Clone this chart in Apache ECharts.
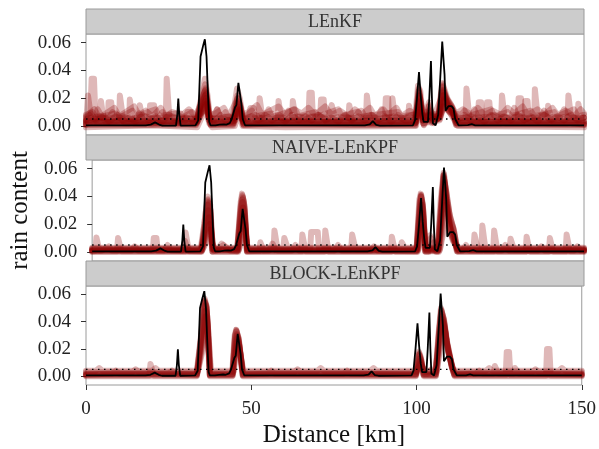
<!DOCTYPE html>
<html>
<head>
<meta charset="utf-8">
<script src="https://cdn.jsdelivr.net/npm/echarts@6/dist/echarts.min.js"></script>
<style>html,body{margin:0;padding:0;background:#fff}#c{width:599px;height:449px}</style>
</head>
<body>
<div id="c"></div>
<script>
// ---------------- data ----------------
const panelTitles = ['LEnKF', 'NAIVE-LEnKPF', 'BLOCK-LEnKPF'];
const xTicks = [0, 50, 100, 150];
const yTicks = [0, 0.02, 0.04, 0.06];
const threshold = 0.005;

// truth (black line), [km, rain content]
const truth = [[0,0.0005],[18,0.0005],[19.5,0.001],[20.8,0.0026],[22,0.001],[23,0.0003],[27.1,0.0003],[27.5,0.008],[27.8,0.0197],[28.1,0.008],[28.5,0.0003],[33,0.0005],[33.8,0.004],[34.5,0.05],[35.3,0.058],[35.8,0.0624],[36.3,0.05],[36.7,0.025],[37.1,0.003],[37.5,0.0005],[39,0.0005],[40.3,0.001],[41.5,0.0012],[42.3,0.001],[43.3,0.002],[43.9,0.005],[44.9,0.0135],[45.3,0.015],[45.9,0.031],[46.4,0.030],[46.8,0.016],[47.2,0.005],[47.9,0.0005],[84,0.0005],[85.5,0.0012],[86.4,0.0035],[87.4,0.0008],[88.5,0.0003],[98.5,0.0005],[99.1,0.004],[99.7,0.02],[100.3,0.0388],[100.8,0.022],[101.3,0.009],[101.7,0.003],[102.3,0.002],[103,0.003],[103.4,0.02],[103.9,0.0467],[104.2,0.02],[104.5,0.002],[105.3,0.0005],[105.8,0.001],[106.1,0.0082],[106.6,0.03],[107.3,0.0607],[108,0.037],[108.3,0.011],[108.7,0.0115],[109.2,0.0143],[110.1,0.0143],[110.7,0.0125],[111.2,0.005],[112.2,0.0005],[115,0.0006],[116.2,0.0013],[117.2,0.0005],[150,0.0005]];

// ensemble members, LEnKF
const lenkfMembers = [
 [[0,0.002],[1.2,0.002],[1.7,0.034],[2.4,0.034],[2.9,0.003],[8,0.003],[10,0.004],[10.2,0.022],[10.8,0.022],[11.3,0.003],[20,0.002],[24,0.003],[24.3,0.034],[24.8,0.034],[25.2,0.003],[33,0.002],[34.5,0.018],[35.8,0.034],[36.6,0.022],[37.5,0.002],[44,0.003],[45.5,0.027],[46.3,0.02],[47.5,0.002],[67,0.003],[67.3,0.024],[68,0.024],[68.4,0.003],[84.3,0.003],[84.6,0.022],[85.2,0.022],[85.6,0.002],[99,0.002],[100,0.029],[100.7,0.025],[101.5,0.004],[103.3,0.017],[104,0.01],[106,0.005],[107.3,0.031],[108.5,0.02],[110,0.015],[111.5,0.002],[114.3,0.003],[114.6,0.027],[115.2,0.027],[115.6,0.003],[135,0.003],[135.2,0.0265],[135.8,0.0265],[136.2,0.003],[150,0.002]],
 [[0,0.001],[0.6,0.022],[1.2,0.022],[1.7,0.003],[4.2,0.003],[4.5,0.018],[5,0.018],[5.4,0.003],[13,0.002],[13.2,0.019],[13.8,0.019],[14.2,0.002],[33.2,0.002],[34.8,0.02],[35.9,0.03],[36.8,0.012],[37.6,0.001],[44.3,0.002],[45.6,0.022],[46.4,0.016],[47.4,0.001],[57.7,0.002],[58,0.018],[58.6,0.018],[59,0.002],[79,0.002],[79.3,0.015],[79.9,0.015],[80.3,0.002],[90,0.002],[90.3,0.02],[91,0.02],[91.4,0.002],[99.2,0.002],[100.2,0.027],[101,0.015],[101.6,0.002],[106.2,0.006],[107.4,0.029],[108.8,0.016],[110.3,0.012],[111.6,0.002],[125,0.002],[125.3,0.022],[125.9,0.022],[126.3,0.002],[145,0.002],[145.3,0.022],[145.9,0.022],[146.3,0.002],[150,0.001]],
 [[0,0.003],[6.5,0.003],[6.8,0.017],[7.6,0.017],[8,0.004],[16,0.003],[16.2,0.015],[16.8,0.015],[17.2,0.003],[30,0.004],[30.5,0.01],[31.5,0.01],[32,0.003],[33.5,0.004],[35,0.02],[36,0.027],[37,0.008],[37.8,0.003],[44.5,0.003],[45.7,0.018],[46.5,0.012],[47.4,0.003],[52,0.003],[52.3,0.02],[52.9,0.02],[53.3,0.003],[62,0.003],[62.3,0.018],[62.8,0.018],[63.2,0.003],[92,0.003],[92.3,0.02],[92.8,0.02],[93.2,0.003],[99.3,0.003],[100.4,0.024],[101.3,0.006],[102.8,0.004],[103.5,0.012],[104.5,0.005],[106.4,0.008],[107.6,0.026],[109,0.018],[110.5,0.01],[111.6,0.003],[118,0.003],[118.3,0.017],[119,0.017],[119.4,0.003],[130,0.003],[130.3,0.02],[131,0.02],[131.4,0.003],[148,0.003],[148.3,0.016],[148.9,0.016],[149.3,0.003],[150,0.003]],
 [[0,0.004],[3,0.005],[3.5,0.012],[4.5,0.008],[5.5,0.004],[19,0.004],[19.3,0.015],[20.5,0.015],[21,0.004],[28,0.004],[28.5,0.009],[29.5,0.004],[33.5,0.003],[35.2,0.018],[36.2,0.023],[37,0.006],[38.5,0.004],[39.5,0.012],[40.5,0.005],[44.6,0.004],[45.8,0.014],[46.6,0.01],[47.5,0.004],[49,0.005],[49.5,0.013],[50.5,0.013],[51,0.004],[70.5,0.004],[70.8,0.019],[71.6,0.019],[72,0.004],[97,0.004],[97.3,0.0145],[97.9,0.0145],[98.3,0.004],[99.4,0.004],[100.5,0.02],[101.2,0.006],[103,0.005],[103.6,0.009],[104.3,0.005],[106.5,0.008],[107.7,0.022],[109.3,0.014],[111,0.006],[112,0.004],[120.5,0.004],[120.8,0.017],[121.5,0.017],[121.9,0.004],[132,0.004],[132.3,0.018],[133,0.018],[133.4,0.004],[139,0.004],[139.2,0.0145],[139.8,0.0145],[140.2,0.004],[150,0.004]],
 [[0,0.006],[1,0.008],[2,0.005],[7,0.006],[8,0.01],[9,0.006],[15,0.005],[16,0.009],[17,0.005],[22,0.006],[23,0.01],[24,0.006],[33.8,0.006],[35.3,0.015],[36.2,0.02],[37,0.007],[38,0.005],[41,0.006],[42,0.01],[43,0.006],[44.7,0.006],[45.9,0.012],[47,0.005],[54,0.006],[55,0.012],[56,0.006],[60,0.006],[61,0.011],[62,0.006],[66,0.007],[73,0.006],[74,0.015],[75,0.006],[81,0.006],[82,0.01],[83,0.006],[88,0.006],[89,0.012],[90,0.006],[99.5,0.006],[100.5,0.017],[101.3,0.007],[106.6,0.009],[107.8,0.019],[110,0.011],[112,0.006],[116,0.006],[117,0.012],[118,0.006],[124,0.007],[128,0.006],[129,0.013],[130,0.006],[137,0.006],[138,0.011],[139,0.006],[143,0.007],[144,0.012],[145,0.006],[150,0.006]],
 [[0,0.001],[10,0.0015],[20,0.001],[27,0.002],[33,0.001],[34.6,0.015],[35.8,0.025],[36.7,0.01],[37.5,0.001],[44.2,0.001],[45.6,0.02],[46.5,0.014],[47.4,0.001],[60,0.002],[80,0.001],[99.1,0.001],[100.2,0.025],[101.1,0.012],[101.7,0.001],[103.2,0.014],[103.9,0.008],[104.8,0.002],[106.1,0.006],[107.3,0.028],[108.6,0.018],[110.2,0.013],[111.4,0.001],[130,0.0015],[150,0.001]],
 [[0,0.0005],[15,0.0005],[33.2,0.0005],[34.8,0.012],[35.9,0.022],[36.9,0.006],[37.6,0.0005],[44.4,0.0005],[45.7,0.016],[46.5,0.01],[47.4,0.0005],[99.2,0.0005],[100.3,0.022],[101.2,0.007],[101.8,0.0005],[103.3,0.01],[104.2,0.002],[106.2,0.006],[107.5,0.025],[108.9,0.015],[110.5,0.01],[111.5,0.0005],[150,0.0005]],
 [[0,0.002],[5,0.003],[12,0.002],[18,0.003],[25,0.002],[33.4,0.002],[35,0.01],[36,0.018],[37,0.004],[37.7,0.002],[44.6,0.002],[45.8,0.012],[46.7,0.007],[47.5,0.002],[65,0.003],[85,0.002],[99.3,0.002],[100.4,0.018],[101.4,0.004],[103.4,0.008],[104.4,0.003],[106.4,0.006],[107.6,0.022],[109.2,0.012],[110.8,0.007],[111.7,0.002],[125,0.003],[140,0.002],[150,0.002]],
 [[0,-0.001],[20,0.0005],[33.5,-0.001],[35.2,0.008],[36.1,0.014],[37.1,0.002],[38,-0.001],[44.8,0],[46,0.009],[47.2,0],[60,-0.001],[99.4,0],[100.5,0.014],[101.5,0.002],[106.5,0.004],[107.8,0.018],[109.5,0.01],[111,0.004],[112,0],[150,-0.001]],
 [[0,0.0035],[10,0.003],[20,0.0035],[30,0.003],[33.6,0.003],[35.4,0.012],[36.2,0.016],[37.2,0.004],[40,0.003],[45,0.004],[46,0.01],[47.2,0.003],[60,0.0035],[75,0.003],[90,0.0035],[99.6,0.003],[100.6,0.012],[101.5,0.004],[106.6,0.005],[107.9,0.015],[109.8,0.009],[111.5,0.004],[120,0.003],[135,0.0035],[150,0.003]],
 [[0,0.005],[4,0.007],[6,0.005],[11,0.007],[13,0.005],[18,0.007],[20,0.005],[26,0.007],[28,0.005],[33.5,0.005],[35.3,0.012],[36.1,0.016],[37.2,0.006],[40,0.005],[43,0.007],[45,0.006],[45.9,0.011],[47,0.005],[51,0.008],[53,0.005],[58,0.008],[60,0.005],[64,0.007],[66,0.005],[70,0.008],[72,0.005],[78,0.007],[80,0.005],[86,0.008],[88,0.005],[93,0.007],[95,0.005],[100.5,0.01],[102,0.006],[106.5,0.006],[107.7,0.014],[110,0.01],[112,0.005],[116,0.007],[118,0.005],[123,0.008],[125,0.005],[131,0.007],[133,0.005],[138,0.008],[140,0.005],[146,0.007],[148,0.005],[150,0.006]],
 [[0,0.008],[2,0.01],[3,0.006],[9,0.009],[10,0.006],[14,0.011],[15,0.007],[21,0.012],[22,0.007],[27,0.009],[29,0.006],[32,0.01],[33,0.006],[35.5,0.011],[36.3,0.015],[37.3,0.006],[38.5,0.008],[39.5,0.012],[40.5,0.007],[44.5,0.006],[45.9,0.011],[47.2,0.006],[48,0.007],[50,0.011],[51,0.007],[56,0.009],[57,0.007],[63,0.012],[64,0.007],[69,0.01],[70,0.007],[76,0.012],[77,0.007],[83,0.011],[84,0.007],[94,0.01],[95,0.007],[98,0.008],[106.6,0.007],[107.7,0.014],[109.5,0.01],[113,0.008],[114,0.011],[115,0.007],[122,0.012],[123,0.007],[127,0.01],[128,0.007],[134,0.011],[135,0.007],[141,0.01],[142,0.007],[147,0.012],[148,0.007],[150,0.008]],
 [[0,0.007],[2.5,0.012],[4,0.006],[6,0.009],[8.5,0.013],[10,0.007],[12,0.01],[14.5,0.014],[16,0.008],[18,0.011],[20,0.007],[22.5,0.013],[24,0.007],[26,0.01],[29,0.008],[31,0.012],[33,0.007],[35.4,0.02],[36.2,0.024],[37.2,0.008],[39,0.009],[41.5,0.013],[43,0.007],[45.8,0.02],[47,0.008],[49,0.01],[51.5,0.015],[53,0.008],[55.5,0.011],[58,0.014],[60,0.008],[62.5,0.012],[65,0.009],[67,0.013],[69,0.008],[72,0.014],[74,0.008],[76.5,0.011],[79,0.007],[81,0.012],[83,0.008],[85.5,0.013],[87,0.007],[89.5,0.012],[91,0.008],[93.5,0.013],[95,0.007],[97.5,0.011],[99.5,0.008],[100.5,0.022],[101.5,0.009],[103.5,0.011],[105,0.008],[107.6,0.024],[109.5,0.016],[111.5,0.009],[113.5,0.012],[116,0.008],[118,0.013],[120,0.008],[122.5,0.011],[125,0.008],[127,0.013],[129,0.009],[131.5,0.014],[133,0.008],[136,0.012],[138,0.008],[140.5,0.013],[142,0.008],[144.5,0.011],[147,0.007],[149,0.012],[150,0.009]],
 [[0,0.004],[1.5,0.009],[3,0.004],[5.5,0.007],[7,0.003],[9.5,0.008],[11,0.004],[13,0.006],[15,0.003],[17,0.008],[19,0.004],[21,0.007],[23,0.003],[25,0.008],[27,0.004],[30,0.006],[33.4,0.004],[35.3,0.022],[36,0.026],[37,0.006],[39,0.004],[40.5,0.008],[42,0.004],[44.5,0.005],[45.7,0.017],[46.6,0.013],[47.6,0.004],[50,0.007],[52,0.004],[54,0.008],[56,0.004],[58,0.007],[60,0.003],[62,0.008],[64,0.004],[66,0.007],[68,0.004],[70,0.008],[72,0.004],[74,0.006],[76,0.003],[78,0.008],[80,0.004],[82,0.007],[84,0.004],[86,0.008],[88,0.004],[90,0.007],[92,0.003],[94,0.008],[96,0.004],[99.2,0.004],[100.3,0.026],[101.2,0.008],[102.5,0.006],[103.4,0.015],[104.3,0.006],[106.3,0.007],[107.5,0.03],[108.8,0.02],[110.3,0.014],[111.7,0.004],[114,0.008],[116,0.004],[118,0.007],[120,0.003],[122,0.008],[124,0.004],[126,0.007],[128,0.004],[130,0.008],[132,0.004],[134,0.007],[136,0.003],[138,0.008],[140,0.004],[142,0.007],[144,0.004],[146,0.008],[148,0.004],[150,0.006]]
];

// ensemble members, NAIVE-LEnKPF
const naiveMembers = [
 [[0,0.001],[1,0.001],[1.3,0.0105],[1.8,0.0105],[2.2,0.001],[18.5,0.001],[18.8,0.01],[19.6,0.01],[20,0.001],[33,0.001],[34.2,0.02],[35.2,0.04],[35.8,0.038],[36.6,0.002],[44.2,0.001],[45.2,0.03],[45.7,0.042],[46.3,0.036],[47.2,0.001],[55.3,0.001],[55.6,0.0155],[56.2,0.0155],[56.6,0.001],[98.9,0.001],[99.8,0.03],[100.2,0.042],[100.8,0.035],[101.6,0.001],[105.4,0.001],[106.4,0.033],[107.2,0.057],[108,0.04],[109,0.023],[110,0.0175],[111.4,0.001],[118.7,0.001],[119,0.019],[119.6,0.019],[120,0.001],[150,0.001]],
 [[0,0.0005],[7.6,0.0005],[7.9,0.01],[8.5,0.01],[8.9,0.0005],[28.2,0.0005],[28.5,0.014],[29.1,0.014],[29.5,0.0005],[33.2,0.0005],[34.4,0.018],[35.3,0.037],[35.9,0.033],[36.6,0.0005],[44.3,0.0005],[45.3,0.028],[45.8,0.038],[46.4,0.03],[47.2,0.0005],[63.8,0.0005],[64.1,0.0125],[64.7,0.0125],[65.1,0.0005],[99,0.0005],[99.9,0.028],[100.3,0.04],[100.9,0.03],[101.6,0.0005],[102.4,0.0005],[103,0.012],[103.8,0.01],[104.5,0.0005],[105.5,0.0005],[106.5,0.03],[107.2,0.055],[108,0.037],[109,0.02],[110,0.012],[111.3,0.0005],[122.3,0.0005],[122.6,0.0155],[123.2,0.0155],[123.6,0.0005],[144.4,0.0005],[144.7,0.0125],[145.3,0.0125],[145.7,0.0005],[150,0.0005]],
 [[0,0.002],[10,0.002],[33.3,0.002],[34.5,0.016],[35.3,0.034],[36,0.028],[36.7,0.002],[44.4,0.002],[45.4,0.026],[45.9,0.036],[46.5,0.026],[47.3,0.002],[66.5,0.002],[66.8,0.0143],[68.8,0.0143],[69.2,0.002],[79,0.002],[79.3,0.0125],[79.9,0.0125],[80.3,0.002],[99.1,0.002],[100,0.026],[100.4,0.037],[101,0.025],[101.7,0.002],[105.6,0.002],[106.6,0.028],[107.3,0.053],[108.1,0.035],[109.2,0.018],[110.3,0.01],[111.3,0.002],[116.3,0.002],[116.6,0.0125],[117.2,0.0125],[117.6,0.002],[127.3,0.002],[127.6,0.0095],[128.2,0.0095],[128.6,0.002],[150,0.002]],
 [[0,0],[33.4,0],[34.6,0.014],[35.4,0.03],[36.1,0.022],[36.8,0],[44.5,0],[45.5,0.022],[46,0.032],[46.6,0.022],[47.3,0],[70.8,0],[71.1,0.0155],[71.7,0.0155],[72.1,0],[91.1,0],[91.4,0.011],[92,0.011],[92.4,0],[99.2,0],[100.1,0.022],[100.5,0.034],[101.1,0.02],[101.8,0],[102.6,0],[103.3,0.01],[104.2,0.008],[105,0],[105.7,0],[106.7,0.026],[107.4,0.05],[108.2,0.032],[109.4,0.015],[110.5,0.008],[111.5,0],[132.2,0],[132.5,0.011],[133.1,0.011],[133.5,0],[139.3,0],[139.6,0.01],[140.2,0.01],[140.6,0],[150,0]],
 [[0,0.003],[14,0.003],[33.5,0.003],[34.8,0.012],[35.6,0.025],[36.3,0.015],[37,0.003],[38.5,0.003],[39.5,0.006],[41,0.003],[44.6,0.003],[45.6,0.018],[46.1,0.026],[46.7,0.017],[47.4,0.003],[58.3,0.003],[58.6,0.01],[59.2,0.01],[59.6,0.003],[94.1,0.003],[94.4,0.007],[95,0.007],[95.4,0.003],[99.3,0.003],[100.2,0.018],[100.6,0.028],[101.2,0.015],[101.8,0.003],[105.8,0.003],[106.8,0.022],[107.5,0.045],[108.3,0.028],[109.6,0.012],[110.8,0.006],[111.6,0.003],[150,0.003]],
 [[0,0.001],[27.5,0.001],[28.3,0.008],[29.2,0.001],[33.6,0.001],[35,0.01],[35.8,0.02],[36.5,0.008],[37.2,0.001],[44.7,0.001],[45.8,0.015],[46.3,0.02],[46.9,0.01],[47.5,0.001],[51,0.001],[51.3,0.007],[51.9,0.007],[52.3,0.001],[99.4,0.001],[100.3,0.014],[100.7,0.022],[101.3,0.01],[101.9,0.001],[103.5,0.001],[104.2,0.007],[105,0.001],[106,0.001],[107,0.018],[107.6,0.04],[108.5,0.024],[109.8,0.01],[111,0.004],[111.8,0.001],[150,0.001]],
 [[0,0.002],[30,0.002],[33.7,0.002],[35.1,0.008],[35.9,0.016],[36.6,0.006],[37.3,0.002],[44.8,0.002],[46,0.012],[46.5,0.016],[47.5,0.002],[99.5,0.002],[100.4,0.012],[100.8,0.018],[101.9,0.002],[106.1,0.002],[107.1,0.014],[107.8,0.034],[108.7,0.02],[110,0.008],[111.8,0.002],[150,0.002]],
 [[0,0.0012],[25,0.0012],[33.5,0.0012],[35,0.022],[35.6,0.035],[36.2,0.02],[36.9,0.0012],[44.4,0.0012],[45.5,0.032],[46,0.039],[46.6,0.028],[47.3,0.0012],[99,0.0012],[100,0.034],[100.4,0.041],[101,0.03],[101.7,0.0012],[105.5,0.0012],[106.6,0.035],[107.3,0.056],[108.2,0.038],[109.2,0.024],[110.3,0.016],[111.4,0.0012],[150,0.0012]],
 [[0,0.0025],[33.4,0.0025],[34.7,0.024],[35.4,0.036],[36.1,0.03],[36.8,0.0025],[44.3,0.0025],[45.4,0.034],[45.9,0.04],[46.5,0.032],[47.2,0.0025],[99,0.0025],[99.9,0.036],[100.3,0.04],[100.9,0.032],[101.6,0.0025],[105.4,0.0025],[106.5,0.036],[107.2,0.054],[108.1,0.042],[109.1,0.026],[110.2,0.017],[111.3,0.0025],[150,0.0025]],
 [[0,0.0005],[3,0.001],[5,0.004],[6,0.001],[12,0.001],[13,0.004],[14,0.001],[22,0.001],[23,0.005],[24,0.001],[33.3,0.0005],[34.6,0.028],[35.3,0.038],[36,0.034],[36.7,0.0005],[38,0.001],[40,0.005],[42,0.001],[44.2,0.0005],[45.3,0.036],[45.8,0.041],[46.4,0.034],[47.2,0.0005],[54,0.001],[55,0.006],[56,0.001],[61,0.001],[62,0.005],[63,0.001],[74,0.001],[75,0.005],[76,0.001],[85,0.001],[86,0.004],[87,0.001],[98.9,0.0005],[99.8,0.038],[100.2,0.041],[100.8,0.034],[101.5,0.0005],[105.3,0.0005],[106.3,0.038],[107.1,0.055],[107.9,0.045],[108.9,0.028],[110,0.018],[111.2,0.0005],[113,0.001],[114,0.005],[115,0.001],[125,0.001],[126,0.005],[127,0.001],[136,0.001],[137,0.004],[138,0.001],[147,0.001],[148,0.004],[149,0.001],[150,0.001]]
];

// ensemble members, BLOCK-LEnKPF
const blockMembers = [
 [[0,0.001],[33.5,0.001],[35,0.03],[35.9,0.056],[36.5,0.05],[37.5,0.001],[44.3,0.001],[45.1,0.028],[45.5,0.033],[46.2,0.026],[47.5,0.001],[99.8,0.001],[100.8,0.017],[101.4,0.012],[102.2,0.001],[105.8,0.001],[106.8,0.03],[107.5,0.048],[108.3,0.04],[109.2,0.024],[110.7,0.007],[111.5,0.001],[127,0.001],[127.3,0.0177],[128,0.0177],[128.4,0.001],[150,0.001]],
 [[0,0.0005],[19.2,0.0005],[19.5,0.009],[20.1,0.009],[20.5,0.0005],[33.6,0.0005],[35.1,0.028],[36,0.054],[36.6,0.046],[37.5,0.0005],[44.4,0.0005],[45.2,0.026],[45.6,0.031],[46.3,0.024],[47.4,0.0005],[99.9,0.0005],[100.9,0.015],[101.5,0.01],[102.2,0.0005],[105.9,0.0005],[106.9,0.028],[107.6,0.046],[108.4,0.038],[109.3,0.022],[110.7,0.006],[111.5,0.0005],[139.2,0.0005],[139.5,0.02],[140.2,0.02],[140.6,0.0005],[150,0.0005]],
 [[0,0.002],[33.7,0.002],[35.2,0.026],[36.1,0.052],[36.7,0.044],[37.6,0.002],[44.5,0.002],[45.3,0.024],[45.7,0.03],[46.4,0.022],[47.5,0.002],[100,0.002],[101,0.013],[101.6,0.008],[102.3,0.002],[103.5,0.002],[104.5,0.005],[105.5,0.002],[106,0.002],[107,0.026],[107.7,0.044],[108.5,0.036],[109.4,0.02],[110.8,0.006],[111.6,0.002],[123.4,0.002],[123.7,0.0075],[124.3,0.0075],[124.7,0.002],[150,0.002]],
 [[0,0.001],[8,0.002],[9,0.004],[10,0.002],[25,0.002],[26,0.004],[27,0.002],[33.4,0.001],[34.9,0.032],[35.8,0.055],[36.4,0.052],[37.4,0.001],[44.2,0.001],[45,0.03],[45.4,0.034],[46.1,0.028],[47.4,0.001],[55,0.002],[56,0.004],[57,0.002],[78,0.002],[79,0.004],[80,0.002],[99.7,0.001],[100.7,0.018],[101.3,0.014],[102.1,0.001],[105.7,0.001],[106.7,0.032],[107.4,0.05],[108.2,0.042],[109.1,0.026],[110.6,0.008],[111.4,0.001],[118,0.002],[119,0.004],[120,0.002],[129.5,0.002],[129.8,0.006],[130.4,0.006],[130.8,0.002],[150,0.001]],
 [[0,0.003],[14,0.003],[15,0.005],[16,0.003],[33.8,0.003],[35.3,0.024],[36.2,0.048],[36.8,0.04],[37.7,0.003],[44.6,0.003],[45.4,0.022],[45.8,0.028],[46.5,0.02],[47.5,0.003],[63,0.003],[64,0.005],[65,0.003],[100.1,0.003],[101.1,0.011],[101.7,0.007],[102.4,0.003],[106.1,0.003],[107.1,0.024],[107.8,0.042],[108.6,0.034],[109.5,0.019],[110.9,0.006],[111.6,0.003],[135,0.003],[136,0.005],[137,0.003],[150,0.003]],
 [[0,0],[33.5,0],[35,0.031],[35.9,0.057],[36.5,0.051],[37.5,0],[44.3,0],[45.1,0.029],[45.5,0.034],[46.2,0.027],[47.5,0],[99.8,0],[100.8,0.016],[101.4,0.011],[102.2,0],[105.8,0],[106.8,0.031],[107.5,0.049],[108.3,0.041],[109.2,0.025],[110.7,0.008],[111.5,0],[150,0]],
 [[0,0.004],[3,0.004],[4,0.006],[5,0.004],[20,0.004],[21,0.006],[22,0.004],[33.9,0.004],[35.4,0.02],[36.3,0.044],[36.9,0.036],[37.8,0.004],[44.7,0.004],[45.5,0.02],[45.9,0.025],[46.6,0.018],[47.6,0.004],[70,0.004],[71,0.006],[72,0.004],[86,0.004],[87,0.006],[88,0.004],[100.2,0.004],[101.2,0.009],[102.5,0.004],[106.2,0.004],[107.2,0.022],[107.9,0.04],[108.7,0.032],[109.6,0.018],[111,0.006],[111.7,0.004],[121,0.004],[122,0.006],[123,0.004],[143,0.004],[144,0.006],[145,0.004],[150,0.004]],
 [[0,0.0015],[33.6,0.0015],[35,0.033],[35.9,0.055],[36.5,0.05],[37.5,0.0015],[44.3,0.0015],[45.1,0.03],[45.5,0.033],[46.2,0.028],[47.5,0.0015],[99.8,0.0015],[100.8,0.016],[101.4,0.012],[102.2,0.0015],[105.8,0.0015],[106.8,0.032],[107.5,0.048],[108.3,0.042],[109.2,0.026],[110.7,0.008],[111.5,0.0015],[150,0.0015]]
];

const panelMembers = [lenkfMembers, naiveMembers, blockMembers];

// ---------------- chart ----------------
const FONT = 'Liberation Serif';
const gridTops = [34, 160, 286];
const GRID_LEFT = 86, GRID_W = 498, GRID_H = 101, STRIP_H = 25;
const Y_MIN = -0.0065, Y_MAX = 0.0662;

const grids = [], xAxes = [], yAxes = [], series = [], graphics = [];
panelTitles.forEach((title, i) => {
  const top = gridTops[i];
  grids.push({left: GRID_LEFT, top: top, width: GRID_W, height: GRID_H,
    show: true, borderColor: '#9a9a9a', borderWidth: 1, backgroundColor: '#fff'});
  const last = i === panelTitles.length - 1;
  xAxes.push({type: 'value', gridIndex: i, min: xTicks[0], max: xTicks[xTicks.length - 1], interval: 50,
    axisLine: {show: false, onZero: false}, splitLine: {show: false},
    axisTick: {show: last, length: 5, lineStyle: {color: '#333', width: 1}},
    axisLabel: {show: last, margin: 15, fontFamily: FONT, fontSize: 19, color: '#222'},
    name: last ? 'Distance [km]' : '', nameLocation: 'middle', nameGap: 38,
    nameTextStyle: {fontFamily: FONT, fontSize: 25, color: '#111'}});
  yAxes.push({type: 'value', gridIndex: i, min: Y_MIN, max: Y_MAX,
    axisLine: {show: false, onZero: false}, splitLine: {show: false},
    axisTick: {show: true, length: 5, customValues: yTicks, lineStyle: {color: '#333', width: 1}},
    axisLabel: {customValues: yTicks, margin: 15, fontFamily: FONT, fontSize: 19, color: '#222',
      formatter: v => v.toFixed(2)},
    name: i === 1 ? 'rain content' : '', nameLocation: 'middle', nameGap: 52, nameRotate: 90,
    nameTextStyle: {fontFamily: FONT, fontSize: 25, color: '#111'}});
  graphics.push({type: 'rect', shape: {x: GRID_LEFT, y: top - STRIP_H, width: GRID_W, height: STRIP_H},
    style: {fill: '#cccccc', stroke: '#9a9a9a', lineWidth: 1}, silent: true});
  graphics.push({type: 'text', x: GRID_LEFT + GRID_W / 2, y: top - STRIP_H / 2 + 1,
    style: {text: title, font: '18px "' + FONT + '"', fill: '#333', align: 'center', verticalAlign: 'middle'},
    silent: true});
  panelMembers[i].forEach(m => {
    series.push({type: 'line', xAxisIndex: i, yAxisIndex: i, data: m, showSymbol: false, silent: true,
      lineStyle: {color: '#8b0000', opacity: 0.28, width: 6, cap: 'round', join: 'round'}});
  });
  series.push({type: 'line', xAxisIndex: i, yAxisIndex: i, data: [[xTicks[0], threshold], [xTicks[3], threshold]],
    showSymbol: false, silent: true, lineStyle: {color: '#000', width: 1.3, type: [1.5, 4.5]}});
  series.push({type: 'line', xAxisIndex: i, yAxisIndex: i, data: truth, showSymbol: false, silent: true,
    lineStyle: {color: '#000', width: 1.8}});
});

const chart = echarts.init(document.getElementById('c'), null, {renderer: 'canvas'});
chart.setOption({animation: false, backgroundColor: '#fff',
  grid: grids, xAxis: xAxes, yAxis: yAxes, series: series, graphic: graphics});
</script>
</body>
</html>
